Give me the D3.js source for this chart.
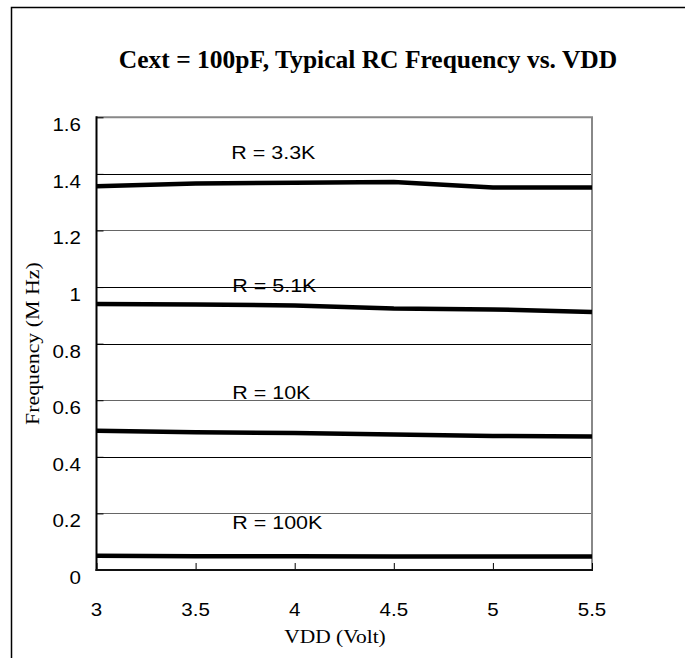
<!DOCTYPE html>
<html>
<head>
<meta charset="utf-8">
<script src="https://cdn.jsdelivr.net/npm/d3@7"></script>
<style>
  html, body { margin: 0; padding: 0; background: #fff; }
  svg { display: block; }
</style>
</head>
<body>
<svg id="chart" width="685" height="658"></svg>
<script>
// ---- data ----
const voltages = [3, 3.5, 4, 4.5, 5, 5.5];
const seriesNames = ["R = 3.3K", "R = 5.1K", "R = 10K", "R = 100K"];
const freqR3k3 = [1.356, 1.366, 1.369, 1.371, 1.352, 1.352];
const freqR5k1 = [0.940, 0.938, 0.935, 0.924, 0.921, 0.912];
const freqR10k = [0.492, 0.487, 0.484, 0.479, 0.474, 0.472];
const freqR100k = [0.050, 0.049, 0.049, 0.048, 0.048, 0.048];
// label anchor points (data units: volt, MHz)
const labelVolt = [3.68, 3.685, 3.685, 3.685];
const labelFreq = [1.451, 0.983, 0.603, 0.146];
const xTicks = [3, 3.5, 4, 4.5, 5, 5.5];
const yTicks = [0, 0.2, 0.4, 0.6, 0.8, 1, 1.2, 1.4, 1.6];
const titleText = "Cext = 100pF, Typical RC Frequency vs. VDD";
const xTitle = "VDD (Volt)";
const yTitle = "Frequency (M Hz)";

const allSeries = [freqR3k3, freqR5k1, freqR10k, freqR100k];

(function () {
// ---- layout ----
const svg = d3.select("#chart");
const pLeft = 96.5, pRight = 592, pTop = 117.3, pBottom = 570;
const x = d3.scaleLinear().domain([3, 5.5]).range([pLeft, pRight]);
const y = d3.scaleLinear().domain([0, 1.6]).range([pBottom, pTop]);
const STRETCH = 1.13;
const grayGrid = new Set([0.2, 0.6, 1.2]);

function stretchText(sel, factor) {
  sel.each(function() {
    const w = this.getComputedTextLength();
    d3.select(this).attr("textLength", w * factor).attr("lengthAdjust", "spacingAndGlyphs");
  });
}

// outer frame
svg.append("path")
  .attr("d", `M11.5,${658 + 5} L11.5,7.5 L${685 + 5},7.5`)
  .attr("fill", "none").attr("stroke", "#000").attr("stroke-width", 1.5);

// title
svg.append("text")
  .attr("x", 368).attr("y", 68)
  .attr("text-anchor", "middle")
  .attr("font-family", "'Liberation Serif', 'Times New Roman', serif")
  .attr("font-weight", "bold").attr("font-size", 25.5)
  .text(titleText);

// gridlines
const g = svg.append("g");
g.selectAll("line.grid")
  .data(yTicks.filter(t => t > 0 && t < 1.6))
  .join("line")
  .attr("class", "grid")
  .attr("x1", pLeft).attr("x2", pRight)
  .attr("y1", d => Math.round(y(d)) + 0.5).attr("y2", d => Math.round(y(d)) + 0.5)
  .attr("stroke", d => grayGrid.has(d) ? "#666" : "#000")
  .attr("stroke-width", 1);

// plot frame: top & right gray
svg.append("path")
  .attr("d", `M${pLeft},${y(1.6)} L${pRight},${y(1.6)} L${pRight},${pBottom}`)
  .attr("fill", "none").attr("stroke", "#888").attr("stroke-width", 2);

// axes (inward ticks)
const xAxis = d3.axisTop(x).tickValues(xTicks).tickSize(7).tickFormat("");
const yAxis = d3.axisRight(y).tickValues(yTicks).tickSize(7).tickFormat("");
const gx = svg.append("g").attr("transform", `translate(0,${pBottom})`).call(xAxis);
gx.select(".domain").remove();
gx.selectAll(".tick line").attr("stroke", "#000").attr("stroke-width", 1);
const gy = svg.append("g").attr("transform", `translate(${pLeft},0)`).call(yAxis);
gy.select(".domain").remove();
gy.selectAll(".tick line").attr("stroke", "#000").attr("stroke-width", 1);

// axis lines
svg.append("line").attr("x1", pLeft).attr("x2", pLeft).attr("y1", pTop - 1).attr("y2", pBottom + 1)
  .attr("stroke", "#000").attr("stroke-width", 2);
svg.append("line").attr("x1", pLeft - 1).attr("x2", pRight + 1).attr("y1", pBottom).attr("y2", pBottom)
  .attr("stroke", "#111").attr("stroke-width", 2);

// tick labels
const yl = svg.append("g").selectAll("text")
  .data(yTicks).join("text")
  .attr("x", 81).attr("y", d => y(d) + 14)
  .attr("text-anchor", "end")
  .attr("font-family", "'Liberation Sans', Arial, sans-serif")
  .attr("font-size", 19)
  .text(d => d3.format("")(d));
stretchText(yl, 1.08);

const xl = svg.append("g").selectAll("text")
  .data(xTicks).join("text")
  .attr("x", d => x(d)).attr("y", 616)
  .attr("text-anchor", "middle")
  .attr("font-family", "'Liberation Sans', Arial, sans-serif")
  .attr("font-size", 19)
  .text(d => d3.format("")(d));
stretchText(xl, 1.08);

// series lines
const line = d3.line().x((d, i) => x(voltages[i])).y(d => y(d));
svg.append("g").selectAll("path")
  .data(allSeries).join("path")
  .attr("d", d => line(d))
  .attr("fill", "none").attr("stroke", "#000").attr("stroke-width", 4.5);

// series labels
const sl = svg.append("g").selectAll("text")
  .data(seriesNames).join("text")
  .attr("x", (d, i) => x(labelVolt[i])).attr("y", (d, i) => y(labelFreq[i]))
  .attr("font-family", "'Liberation Sans', Arial, sans-serif")
  .attr("font-size", 19)
  .text(d => d);
stretchText(sl, STRETCH);

// axis titles
const xt = svg.append("text")
  .attr("x", 335).attr("y", 643)
  .attr("text-anchor", "middle")
  .attr("font-family", "'Liberation Serif', 'Times New Roman', serif")
  .attr("font-size", 19)
  .text(xTitle);
stretchText(xt, STRETCH);

const yt = svg.append("text")
  .attr("transform", `translate(39,${(pTop + pBottom) / 2}) rotate(-90)`)
  .attr("text-anchor", "middle")
  .attr("font-family", "'Liberation Serif', 'Times New Roman', serif")
  .attr("font-size", 19)
  .text(yTitle);
stretchText(yt, 1.15);
})();
</script>
</body>
</html>
